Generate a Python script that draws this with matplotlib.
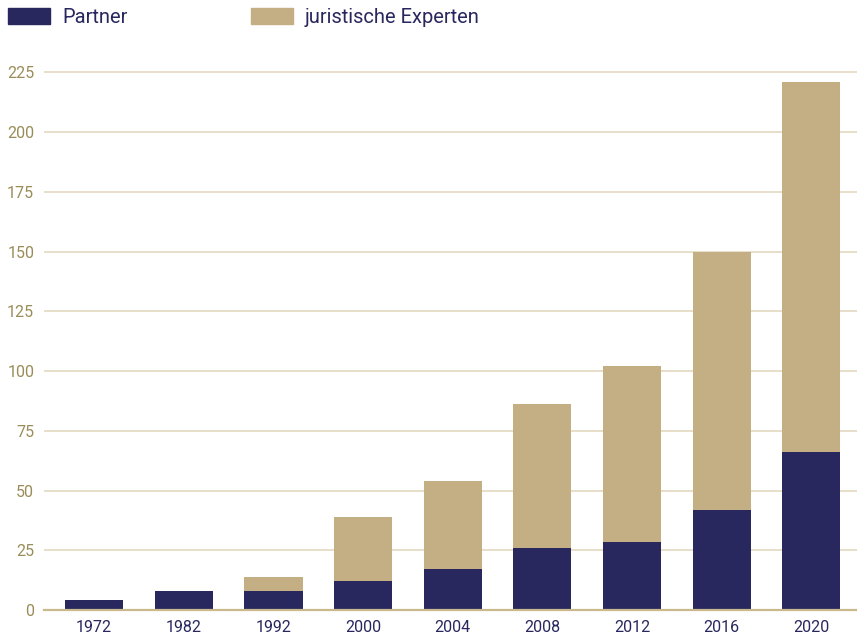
import matplotlib
matplotlib.use("Agg")
import matplotlib.pyplot as plt
from matplotlib.patches import Patch

# data
years = ["1972", "1982", "1992", "2000", "2004", "2008", "2012", "2016", "2020"]
partner = [4, 8, 8, 12, 17, 26, 28.5, 42, 66]
experten = [0, 0, 6, 27, 37, 60, 73.5, 108, 155]
yticks = [0, 25, 50, 75, 100, 125, 150, 175, 200, 225]

navy = "#28285e"
tan = "#c4ae84"
grid_col = "#e6dcc6"
axis_col = "#c9b98c"
ytick_col = "#9a8c58"

plt.rcParams["font.family"] = ["Roboto", "DejaVu Sans"]

fig = plt.figure(figsize=(8.57, 6.34), dpi=100)
ax = fig.add_axes([0.0513, 0.0379, 0.9487, 0.8675])

x = range(len(years))
ax.bar(x, partner, width=0.65, color=navy, zorder=3)
ax.bar(x, experten, width=0.65, bottom=partner, color=tan, zorder=3)

ax.set_xlim(-0.56, 8.51)
ax.set_ylim(0, 230.2)
ax.set_xticks(list(x))
ax.set_xticklabels(years, color=navy, fontsize=11.5)
ax.set_yticks(yticks)
ax.set_yticklabels([str(v) for v in yticks], color=ytick_col, fontsize=11.5)
ax.tick_params(length=0)
ax.tick_params(axis="y", pad=7)
ax.tick_params(axis="x", pad=7)

for s in ["top", "right", "left"]:
    ax.spines[s].set_visible(False)
ax.spines["bottom"].set_color(axis_col)
ax.spines["bottom"].set_linewidth(1.6)
ax.spines["bottom"].set_zorder(4)

ax.yaxis.grid(True, color=grid_col, linewidth=1.3, zorder=0)
ax.set_axisbelow(True)

handles = [Patch(color=navy, label="Partner"), Patch(color=tan, label="juristische Experten")]
fig.legend(handles=handles, loc="upper left", bbox_to_anchor=(-0.007, 1.01), ncol=2,
           frameon=False, fontsize=14.5, labelcolor=navy, handlelength=2.1,
           handleheight=0.9, handletextpad=0.6, columnspacing=6.1,
           borderaxespad=0.3)

fig.savefig("out.png", dpi=100)
